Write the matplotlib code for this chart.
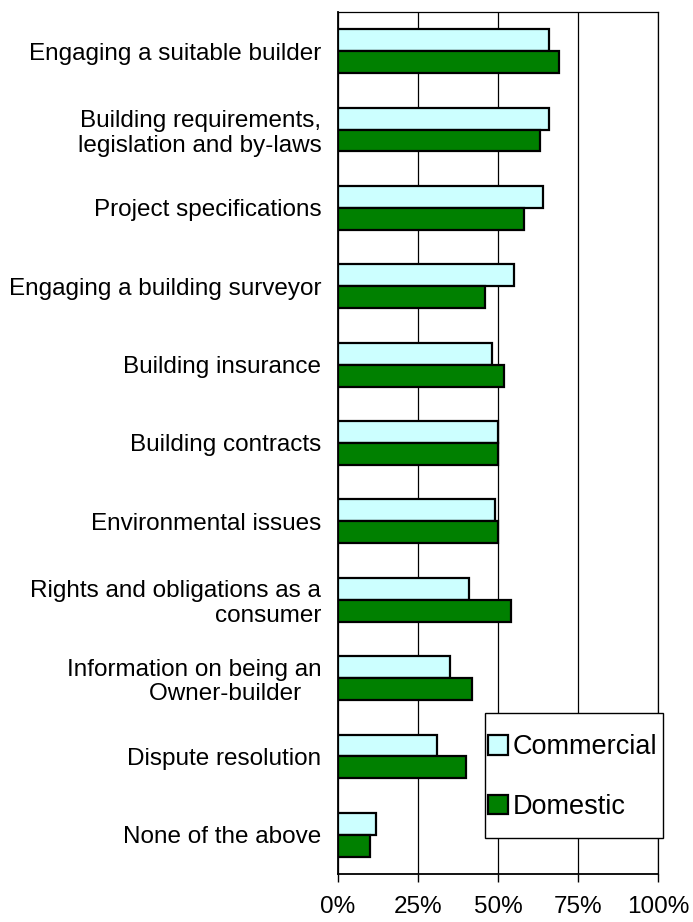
import numpy as np
import matplotlib.pyplot as plt
from matplotlib.patches import Rectangle

plt.rcParams['font.family'] = ['Liberation Sans', 'DejaVu Sans']

categories = [
    'Engaging a suitable builder',
    'Building requirements,\nlegislation and by-laws',
    'Project specifications',
    'Engaging a building surveyor',
    'Building insurance',
    'Building contracts',
    'Environmental issues',
    'Rights and obligations as a\nconsumer',
    'Information on being an\nOwner-builder   ',
    'Dispute resolution',
    'None of the above',
]
commercial = [66, 66, 64, 55, 48, 50, 49, 41, 35, 31, 12]
domestic = [69, 63, 58, 46, 52, 50, 50, 54, 42, 40, 10]
xticks = [0, 25, 50, 75, 100]
xticklabels = ['0%', '25%', '50%', '75%', '100%']

fig = plt.figure(figsize=(6.93, 9.22), dpi=100)
ax = fig.add_axes([338 / 693, 1 - 874 / 922, 320 / 693, 862 / 922])

y = np.arange(len(categories))
h = 0.28
ax.barh(y - h / 2, commercial, height=h, color='#CCFFFF', edgecolor='black',
        linewidth=1.6, label='Commercial', zorder=3)
ax.barh(y + h / 2, domestic, height=h, color='#008000', edgecolor='black',
        linewidth=1.6, label='Domestic', zorder=3)

ax.set_xlim(0, 100)
ax.set_ylim(len(categories) - 0.5, -0.5)
ax.set_xticks(xticks)
ax.set_xticklabels(xticklabels, fontsize=17.5)
ax.set_yticks(y)
ax.set_yticklabels(categories, fontsize=17.5, linespacing=1.15)
ax.tick_params(axis='y', length=0, pad=12)
ax.tick_params(axis='x', length=6, width=1, pad=10, direction='out')
ax.xaxis.grid(True, color='black', linewidth=0.9, zorder=0)
ax.set_axisbelow(True)
for s in ax.spines.values():
    s.set_color('black')
    s.set_linewidth(0.9)
ax.spines['left'].set_linewidth(1.3)
ax.spines['bottom'].set_linewidth(1.3)

# legend box
ax.add_patch(Rectangle((0.459, 0.0418), 1.016 - 0.459, 0.1868 - 0.0418,
                       transform=ax.transAxes, facecolor='white',
                       edgecolor='black', linewidth=1, clip_on=False, zorder=5))
leg = ax.legend(loc='center', bbox_to_anchor=(0.733, 0.1125), frameon=False,
                fontsize=19.5, labelspacing=1.25, handlelength=0.75,
                handleheight=0.75, handletextpad=0.15, borderpad=0)
leg.set_zorder(6)

fig.savefig('out.png', dpi=100)
